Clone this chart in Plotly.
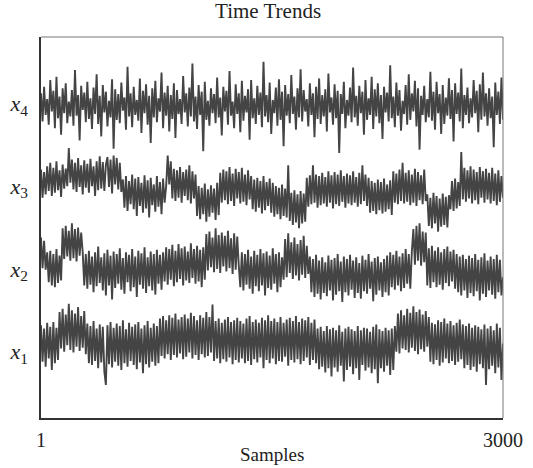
import numpy as np
import plotly.graph_objects as go

# Hand-read values (data units; each series sits on its own level)
x4_vals = [
    4.12, 3.78, 4.20, 3.86, 4.05, 3.74, 4.28, 3.90, 4.15, 3.70,
    4.32, 3.82, 4.08, 3.62, 4.18, 3.88, 4.24, 3.76, 4.02, 3.84,
    4.16, 3.73, 4.40, 3.85, 4.10, 3.55, 4.21, 3.92, 4.13, 3.77,
    4.26, 3.81, 4.06, 3.69, 4.19, 3.87, 4.35, 3.75, 4.09, 3.60,
    4.22, 3.89, 4.14, 3.72, 4.03, 3.83, 4.29, 3.45, 4.17, 3.80,
    4.11, 3.76, 4.25, 3.91, 4.07, 3.68, 4.44, 3.84, 4.12, 3.71,
    4.20, 3.86, 4.04, 3.79, 4.30, 3.64, 4.15, 3.88, 4.23, 3.74,
    4.09, 3.52, 4.18, 3.83, 4.27, 3.77, 4.06, 3.90, 4.37, 3.70,
    4.13, 3.85, 4.21, 3.66, 4.10, 3.81, 4.24, 3.58, 4.16, 3.87,
    4.05, 3.75, 4.33, 3.89, 4.12, 3.72, 4.19, 3.84, 4.48, 3.78,
    4.08, 3.69, 4.22, 3.86, 4.14, 3.42, 4.26, 3.80, 4.03, 3.73,
    4.18, 3.88, 4.11, 3.76, 4.31, 3.83, 4.07, 3.61, 4.20, 3.90,
    4.15, 3.74, 4.39, 3.85, 4.02, 3.70, 4.23, 3.87, 4.12, 3.65,
    4.27, 3.79, 4.09, 3.89, 4.17, 3.56, 4.28, 3.82, 4.06, 3.75,
    4.21, 3.86, 4.13, 3.71, 4.50, 3.84, 4.10, 3.77, 4.25, 3.63,
    4.04, 3.88, 4.19, 3.73, 4.29, 3.80, 4.14, 3.48, 4.22, 3.85,
    4.11, 3.76, 4.34, 3.87, 4.08, 3.68, 4.18, 3.83, 4.41, 3.78,
    4.16, 3.90, 4.05, 3.72, 4.24, 3.86, 4.12, 3.59, 4.20, 3.81,
    4.30, 3.75, 4.10, 3.84, 4.17, 3.66, 4.36, 3.89, 4.07, 3.74,
    4.23, 3.82, 4.15, 3.40, 4.11, 3.87, 4.26, 3.70, 4.04, 3.85,
    4.19, 3.77, 4.43, 3.83, 4.09, 3.73, 4.21, 3.88, 4.14, 3.62,
    4.28, 3.80, 4.06, 3.86, 4.32, 3.69, 4.17, 3.84, 4.24, 3.76,
    4.10, 3.57, 4.20, 3.89, 4.13, 3.78, 4.46, 3.82, 4.08, 3.71,
    4.25, 3.85, 4.16, 3.67, 4.03, 3.87, 4.22, 3.74, 4.35, 3.80,
    4.12, 3.90, 4.27, 3.72, 4.18, 3.44, 4.09, 3.86, 4.21, 3.77,
    4.05, 3.83, 4.38, 3.79, 4.14, 3.68, 4.26, 3.88, 4.11, 3.63,
    4.22, 3.75, 4.07, 3.85, 4.30, 3.81, 4.16, 3.54, 4.24, 3.87,
    4.13, 3.78, 4.42, 3.70, 4.10, 3.86, 4.19, 3.76, 4.06, 3.83,
    4.28, 3.88, 4.15, 3.65, 4.23, 3.80, 4.37, 3.84, 4.12, 3.73,
    4.18, 3.82, 4.08, 3.47, 4.25, 3.86, 4.14, 3.75, 4.31, 3.80,
]

x3_vals = [
    3.20, 2.86, 3.17, 2.90, 3.24, 2.94, 3.28, 2.88, 3.22, 2.92,
    3.30, 2.95, 3.19, 2.87, 3.26, 2.97, 3.21, 3.00, 3.46, 3.04,
    3.32, 2.96, 3.28, 2.93, 3.34, 2.99, 3.25, 2.90, 3.31, 2.98,
    3.27, 2.92, 3.33, 3.00, 3.24, 2.88, 3.30, 2.95, 3.36, 2.97,
    3.29, 2.94, 3.26, 3.35, 2.99, 3.32, 2.91, 3.37, 3.02, 3.34,
    2.96, 3.28, 2.93, 3.08, 2.74, 3.12, 2.70, 3.06, 2.78, 3.14,
    2.72, 3.09, 2.64, 3.11, 2.76, 3.04, 2.68, 3.13, 2.73, 3.07,
    2.62, 3.10, 2.77, 3.02, 2.69, 3.12, 2.75, 3.05, 2.66, 3.09,
    2.80, 3.00, 3.37, 3.02, 3.30, 2.85, 3.21, 2.82, 3.19, 2.86,
    3.23, 2.80, 3.17, 2.88, 3.20, 2.83, 3.25, 2.79, 3.18, 2.85,
    3.14, 2.64, 3.00, 2.60, 2.98, 2.66, 3.03, 2.57, 2.96, 2.63,
    3.01, 2.68, 2.97, 2.59, 3.04, 2.65, 3.16, 2.80, 3.20, 2.83,
    3.18, 2.78, 3.23, 2.82, 3.15, 2.76, 3.21, 2.85, 3.17, 2.79,
    3.22, 2.81, 3.14, 2.77, 3.19, 2.84, 3.12, 2.72, 3.08, 2.69,
    3.10, 2.74, 3.06, 2.67, 3.12, 2.71, 3.05, 2.76, 3.09, 2.68,
    3.04, 2.63, 3.00, 2.66, 2.98, 2.60, 3.02, 2.64, 2.97, 2.62,
    3.25, 2.58, 2.92, 2.53, 2.95, 2.56, 2.90, 2.49, 2.94, 2.55,
    2.91, 2.57, 3.10, 2.75, 3.13, 2.78, 3.25, 2.80, 3.14, 2.74,
    3.12, 2.77, 3.16, 2.79, 3.11, 2.75, 3.18, 2.80, 3.13, 2.73,
    3.17, 2.78, 3.14, 2.76, 3.19, 2.81, 3.12, 2.74, 3.15, 2.79,
    3.13, 2.77, 3.18, 2.80, 3.11, 2.75, 3.16, 2.78, 3.25, 2.82,
    3.14, 2.76, 3.10, 2.68, 3.06, 2.70, 3.04, 2.66, 3.08, 2.71,
    3.05, 2.67, 3.09, 2.69, 3.02, 2.72, 3.07, 2.65, 3.18, 2.80,
    3.15, 2.78, 3.20, 2.82, 3.28, 2.79, 3.16, 2.81, 3.19, 2.77,
    3.14, 2.80, 3.21, 2.76, 3.17, 2.83, 3.13, 2.78, 3.20, 2.82,
    2.90, 2.52, 2.86, 2.49, 2.92, 2.55, 2.88, 2.45, 2.85, 2.51,
    2.91, 2.53, 2.87, 2.50, 2.89, 2.72, 3.06, 2.70, 3.09, 2.73,
    3.05, 2.76, 3.41, 2.84, 3.22, 2.81, 3.19, 2.85, 3.24, 2.79,
    3.20, 2.83, 3.17, 2.78, 3.23, 2.86, 3.18, 2.80, 3.21, 2.84,
    3.16, 2.79, 3.22, 2.82, 3.15, 2.77, 3.19, 2.81, 3.12, 2.86,
]

x2_vals = [
    2.38, 2.01, 2.34, 1.99, 2.20, 1.84, 2.22, 1.80, 2.18, 1.78,
    2.24, 1.83, 2.16, 1.86, 2.49, 2.12, 2.52, 2.15, 2.46, 2.10,
    2.55, 2.13, 2.48, 2.09, 2.50, 2.16, 2.44, 2.20, 1.80, 2.18,
    1.76, 2.22, 1.81, 2.15, 1.72, 2.20, 1.79, 2.27, 1.83, 2.14,
    1.74, 2.19, 1.68, 2.23, 1.80, 2.16, 1.63, 2.21, 1.77, 2.18,
    1.82, 2.25, 1.75, 2.13, 1.70, 2.20, 1.84, 2.17, 1.73, 2.24,
    1.78, 2.15, 1.66, 2.22, 1.81, 2.19, 1.76, 2.26, 1.71, 2.14,
    1.79, 2.21, 1.74, 2.18, 1.69, 2.23, 1.82, 2.17, 1.75, 2.20,
    1.85, 2.26, 1.81, 2.24, 1.87, 2.29, 1.79, 2.22, 1.84, 2.30,
    1.88, 2.25, 1.80, 2.27, 1.86, 2.21, 1.83, 2.31, 1.89, 2.24,
    1.82, 2.28, 1.85, 2.23, 1.78, 2.26, 1.87, 2.42, 1.98, 2.45,
    2.02, 2.38, 1.96, 2.49, 2.00, 2.41, 1.95, 2.44, 2.03, 2.40,
    1.97, 2.46, 2.01, 2.37, 1.94, 2.43, 1.99, 2.39, 2.04, 1.78,
    2.20, 1.74, 2.18, 1.81, 2.23, 1.76, 2.15, 1.70, 2.22, 1.79,
    2.17, 1.73, 2.24, 1.80, 2.19, 1.68, 2.21, 1.77, 2.16, 1.75,
    2.25, 1.82, 2.18, 1.72, 2.20, 1.78, 2.14, 1.87, 2.36, 1.90,
    2.43, 1.95, 2.32, 1.88, 2.38, 1.92, 2.30, 1.86, 2.35, 1.93,
    2.40, 1.89, 2.28, 1.94, 2.15, 1.72, 2.12, 1.66, 2.17, 1.70,
    2.10, 1.63, 2.14, 1.71, 2.08, 1.67, 2.16, 1.74, 2.11, 1.62,
    2.13, 1.69, 2.18, 1.73, 2.09, 1.60, 2.15, 1.72, 2.12, 1.68,
    2.17, 1.75, 2.10, 1.65, 2.14, 1.71, 2.07, 1.64, 2.16, 1.73,
    2.11, 1.70, 2.18, 1.76, 2.09, 1.61, 2.13, 1.69, 2.15, 1.74,
    2.08, 1.66, 2.12, 1.72, 2.16, 1.68, 2.20, 1.78, 2.17, 1.75,
    2.22, 1.80, 2.15, 1.73, 2.19, 1.77, 2.24, 1.82, 2.18, 1.76,
    2.21, 2.48, 2.05, 2.52, 2.10, 2.55, 2.04, 2.45, 2.08, 2.44,
    1.80, 2.25, 1.77, 2.28, 1.84, 2.22, 1.78, 2.26, 1.81, 2.20,
    1.75, 2.24, 1.83, 2.27, 1.79, 2.21, 1.85, 2.23, 1.76, 2.18,
    1.72, 2.15, 1.68, 2.17, 1.74, 2.12, 1.65, 2.16, 1.71, 2.13,
    1.67, 2.18, 1.73, 2.11, 1.62, 2.14, 1.70, 2.19, 1.66, 2.10,
    1.74, 2.15, 1.69, 2.12, 1.64, 2.17, 1.72, 2.11, 1.68, 1.90,
]

x1_vals = [
    1.32, 0.88, 1.28, 0.82, 1.35, 0.92, 1.30, 0.78, 1.36, 0.86,
    1.29, 0.90, 1.48, 1.04, 1.52, 1.00, 1.45, 1.08, 1.58, 1.02,
    1.50, 0.99, 1.46, 1.06, 1.54, 1.01, 1.43, 1.05, 1.49, 0.97,
    1.34, 0.86, 1.31, 0.84, 1.37, 0.89, 1.28, 0.80, 1.33, 0.87,
    1.30, 0.76, 0.60, 1.32, 0.85, 1.36, 0.81, 1.29, 0.88, 1.34,
    0.83, 1.31, 0.78, 1.38, 0.86, 1.27, 0.82, 1.35, 0.89, 1.30,
    0.84, 1.33, 0.79, 1.36, 0.87, 1.28, 0.74, 1.32, 0.85, 1.37,
    0.81, 1.29, 0.88, 1.34, 0.83, 1.31, 0.86, 1.40, 0.95, 1.43,
    0.92, 1.38, 0.97, 1.44, 0.90, 1.41, 0.96, 1.46, 0.93, 1.39,
    0.98, 1.42, 0.91, 1.45, 0.94, 1.40, 0.99, 1.47, 0.92, 1.43,
    0.96, 1.38, 0.90, 1.44, 0.97, 1.41, 0.93, 1.48, 0.95, 1.42,
    0.99, 1.57, 0.89, 1.37, 0.92, 1.40, 0.86, 1.35, 0.91, 1.39,
    0.88, 1.42, 0.93, 1.36, 0.85, 1.38, 0.90, 1.41, 0.87, 1.37,
    0.92, 1.34, 0.86, 1.40, 0.89, 1.43, 0.84, 1.36, 0.91, 1.39,
    0.87, 1.35, 0.93, 1.41, 0.80, 1.38, 0.90, 1.44, 0.86, 1.37,
    0.92, 1.40, 0.85, 1.36, 0.89, 1.42, 0.88, 1.35, 0.94, 1.39,
    0.83, 1.41, 0.90, 1.37, 0.87, 1.43, 0.91, 1.36, 0.85, 1.40,
    0.89, 1.38, 0.93, 1.42, 0.84, 1.35, 0.90, 1.39, 0.86, 1.28,
    0.79, 1.30, 0.82, 1.25, 0.75, 1.31, 0.80, 1.27, 0.70, 1.29,
    0.81, 1.26, 0.76, 1.32, 0.83, 1.24, 0.64, 1.28, 0.78, 1.30,
    0.82, 1.27, 0.73, 1.25, 0.80, 1.31, 0.66, 1.26, 0.84, 1.29,
    0.77, 1.28, 0.81, 1.24, 0.74, 1.30, 0.79, 1.33, 0.62, 1.27,
    0.80, 1.25, 0.76, 1.29, 0.83, 1.26, 0.72, 1.28, 0.78, 1.31,
    1.00, 1.46, 0.98, 1.50, 1.04, 1.44, 1.02, 1.52, 0.99, 1.47,
    1.05, 1.55, 1.01, 1.48, 0.97, 1.51, 1.03, 1.45, 1.00, 1.49,
    1.06, 1.42, 0.88, 1.35, 0.85, 1.33, 0.90, 1.38, 0.83, 1.36,
    0.87, 1.40, 0.92, 1.34, 0.86, 1.37, 0.89, 1.32, 0.84, 1.35,
    0.88, 1.39, 0.91, 1.33, 0.80, 1.31, 0.84, 1.34, 0.78, 1.29,
    0.82, 1.32, 0.76, 1.30, 0.85, 1.27, 0.80, 1.33, 0.60, 1.28,
    0.79, 1.31, 0.83, 1.26, 0.74, 1.34, 0.81, 1.29, 0.66, 1.10,
]

series_names = ["x1", "x2", "x3", "x4"]
series_values = [x1_vals, x2_vals, x3_vals, x4_vals]
y_tick_vals = [1, 2, 3, 4]
y_tick_text = ["<i>x</i><sub>1</sub>", "<i>x</i><sub>2</sub>",
               "<i>x</i><sub>3</sub>", "<i>x</i><sub>4</sub>"]
x_tick_vals = [1, 3000]
x_tick_text = ["1", "3000"]
first_sample, last_sample = 1, 3000

line_color = "#444444"
font_family = "Liberation Serif, Times New Roman, serif"

fig = go.Figure()
for name, vals in zip(series_names, series_values):
    samples = np.linspace(first_sample, last_sample, len(vals))
    fig.add_trace(go.Scatter(x=samples, y=vals, mode="lines", name=name,
                             line=dict(color=line_color, width=1.9),
                             showlegend=False))

fig.update_layout(
    width=533, height=468,
    margin=dict(l=41, r=30, t=37, b=50),
    paper_bgcolor="white", plot_bgcolor="white",
    font=dict(family=font_family, color="#222222", size=20),
    title=dict(text="Time Trends", x=0.503, xref="container", xanchor="center",
               y=1 - 11 / 468, yref="container", yanchor="middle",
               font=dict(size=21, family=font_family, color="#222222")),
)
fig.update_xaxes(range=[first_sample, last_sample], tickvals=x_tick_vals,
                 ticktext=x_tick_text, showgrid=False, zeroline=False,
                 showline=True, linecolor="#333333", linewidth=1.5,
                 ticks="", ticklen=0, ticklabelstandoff=3, automargin=False,
                 tickfont=dict(size=20, family=font_family, color="#222222"))
fig.update_yaxes(range=[0.2, 4.8], tickvals=y_tick_vals, ticktext=y_tick_text,
                 showgrid=False, zeroline=False, showline=True,
                 linecolor="#333333", linewidth=1.5, ticks="", ticklen=0,
                 ticklabelstandoff=7, automargin=False,
                 tickfont=dict(size=22, family=font_family, color="#222222"))
# x-axis title placed just below the tick labels
fig.add_annotation(text="Samples", xref="paper", yref="paper", x=0.5,
                   y=-37 / 381, yanchor="middle", xanchor="center",
                   showarrow=False,
                   font=dict(size=19, family=font_family, color="#222222"))
# lighter top/right frame
fig.add_shape(type="line", xref="paper", yref="paper", x0=0, x1=1, y0=1, y1=1,
              line=dict(color="#777777", width=1))
fig.add_shape(type="line", xref="paper", yref="paper", x0=1, x1=1, y0=0, y1=1,
              line=dict(color="#777777", width=1))

fig.write_html("out.html")
